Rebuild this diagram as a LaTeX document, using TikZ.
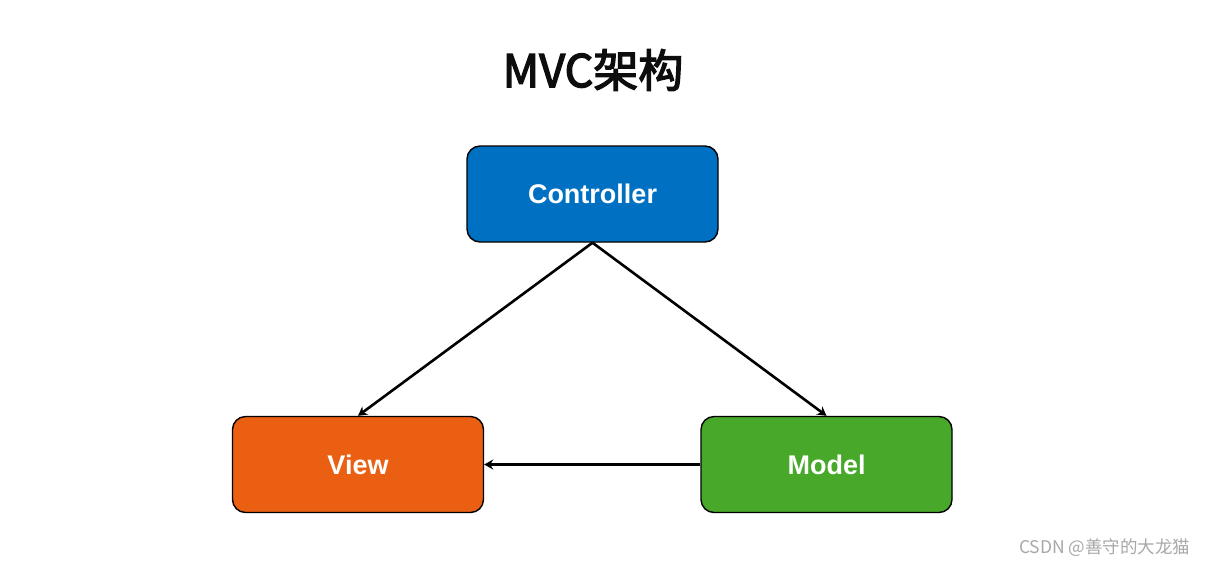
\documentclass[tikz,border=0pt]{standalone}
\usepackage{fontspec}
\setmainfont{Liberation Sans}
\newfontfamily\cjk{Noto Sans CJK SC}
\newfontfamily\cjktitle[FakeBold=3]{Noto Sans CJK SC}
\usetikzlibrary{arrows.meta}
\definecolor{ctrlblue}{HTML}{0070C2}
\definecolor{vieworange}{HTML}{EA5F12}
\definecolor{modelgreen}{HTML}{47A829}
\definecolor{wmgray}{HTML}{A8A8A8}
\tikzset{
  mvcbox/.style={draw=black, line width=1.4pt, rounded corners=13pt,
    minimum width=251pt, minimum height=96pt, inner sep=0pt,
    text=white, font=\fontsize{27}{30}\selectfont\bfseries},
  link/.style={draw=black, line width=2.6pt, -{Stealth[length=9pt,width=10pt]}}
}
\begin{document}
\begin{tikzpicture}[x=1pt,y=-1pt]
\useasboundingbox[fill=white] (0,0) rectangle (1209,566);
\node[font=\cjktitle\fontsize{45}{48}\selectfont, text=black!95] (title) at (593,70) {MVC架构};
\node[mvcbox, fill=ctrlblue] (ctrl) at (592.5,194) {Controller};
\node[mvcbox, fill=vieworange] (view) at (358,464.5) {View};
\node[mvcbox, fill=modelgreen] (model) at (826.5,464.5) {Model};
\draw[link] (ctrl.south) -- (view.north);
\draw[link] (ctrl.south) -- (model.north);
\draw[link] (model.west) -- (view.east);
\node[font=\cjk\fontsize{17.5}{20}\selectfont, text=wmgray, anchor=east] (wm) at (1194,548) {CSDN @善守的大龙猫};
\end{tikzpicture}
\end{document}
